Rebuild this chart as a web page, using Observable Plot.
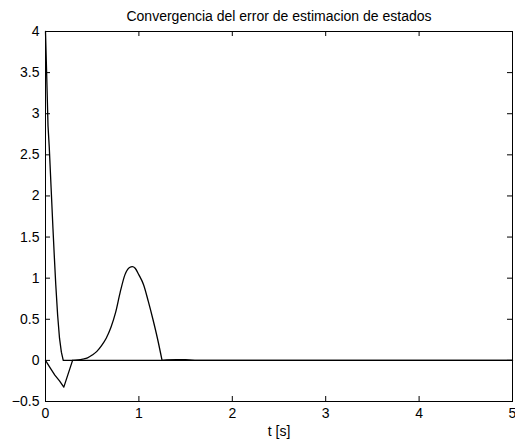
<!DOCTYPE html>
<html><head><meta charset="utf-8">
<script src="https://cdn.jsdelivr.net/npm/d3@7"></script>
<script src="https://cdn.jsdelivr.net/npm/@observablehq/plot@0.6"></script>
<style>html,body{margin:0;padding:0;background:#fff} svg{display:block}</style>
</head><body><div id="chart"></div>
<script>
const titleText = "Convergencia del error de estimacion de estados";
const xLabel = "t [s]";
const xTicks = [0, 1, 2, 3, 4, 5];
const yTicks = [-0.5, 0, 0.5, 1, 1.5, 2, 2.5, 3, 3.5, 4];

// error 1
const t1 = [0, 0.012, 0.027, 0.04, 0.06, 0.08, 0.095, 0.11, 0.13, 0.15, 0.17, 0.19, 5];
const e1 = [4, 3.5, 2.85, 2.6, 2.1, 1.6, 1.25, 0.92, 0.55, 0.27, 0.1, 0, 0];

// error 2
const t2 = [0, 0.05, 0.1, 0.15, 0.196, 0.29, 0.35, 0.4, 0.45, 0.5, 0.55, 0.6, 0.65, 0.7, 0.75, 0.8, 0.85, 0.9, 0.93, 0.96, 1.0, 1.05, 1.1, 1.15, 1.2, 1.248, 1.3, 1.4, 1.5, 1.6, 5];
const e2 = [0, -0.09, -0.18, -0.25, -0.325, 0, 0.005, 0.015, 0.03, 0.065, 0.11, 0.18, 0.27, 0.4, 0.58, 0.83, 1.04, 1.13, 1.14, 1.12, 1.04, 0.92, 0.72, 0.5, 0.26, 0, 0.005, 0.01, 0.008, 0, 0];

const s1 = t1.map((t, i) => ({t, e: e1[i]}));
const s2 = t2.map((t, i) => ({t, e: e2[i]}));
const s2a = s2.filter(d => d.t <= 0.29);
const s2b = s2.filter(d => d.t >= 0.29 && d.t <= 1.248);
const s2c = s2.filter(d => d.t >= 1.248);

const W = 515, H = 444, mL = 45, mR = 3, mT = 31, mB = 43, tk = 5;
const fw = W - mL - mR, fh = H - mT - mB;
const fmt = d3.format("");

const chart = Plot.plot({
  width: W,
  height: H,
  marginLeft: mL,
  marginRight: mR,
  marginTop: mT,
  marginBottom: mB,
  style: {fontFamily: "'Liberation Sans', Arial, sans-serif", fontSize: "14px", background: "#fff", color: "#000"},
  x: {domain: [0, 5]},
  y: {domain: [-0.5, 4]},
  marks: [
    Plot.line(s1, {x: "t", y: "e", stroke: "#000", strokeWidth: 1.3}),
    Plot.line(s2a, {x: "t", y: "e", stroke: "#000", strokeWidth: 1.3}),
    Plot.line(s2b, {x: "t", y: "e", stroke: "#000", strokeWidth: 1.3, curve: "monotone-x"}),
    Plot.line(s2c, {x: "t", y: "e", stroke: "#000", strokeWidth: 1.3}),
    Plot.tickX(xTicks, {x: d => d, insetTop: fh - tk, stroke: "#000"}),
    Plot.tickX(xTicks, {x: d => d, insetBottom: fh - tk, stroke: "#000"}),
    Plot.tickY(yTicks, {y: d => d, insetRight: fw - tk, stroke: "#000"}),
    Plot.tickY(yTicks, {y: d => d, insetLeft: fw - tk, stroke: "#000"}),
    Plot.frame({stroke: "#000", strokeWidth: 1}),
    Plot.axisX({ticks: xTicks, anchor: "bottom", tickSize: 0, tickPadding: 7, tickFormat: fmt, label: null}),
    Plot.axisY({ticks: yTicks, anchor: "left", tickSize: 0, tickPadding: 6, tickFormat: fmt, label: null}),
    Plot.text([titleText], {text: d => d, frameAnchor: "top", lineAnchor: "bottom", dy: -11, fill: "#000", fontSize: 14}),
    Plot.text([xLabel], {text: d => d, frameAnchor: "bottom", lineAnchor: "bottom", dy: 34, fill: "#000", fontSize: 14})
  ]
});
document.getElementById("chart").appendChild(chart);
</script>
</body></html>
